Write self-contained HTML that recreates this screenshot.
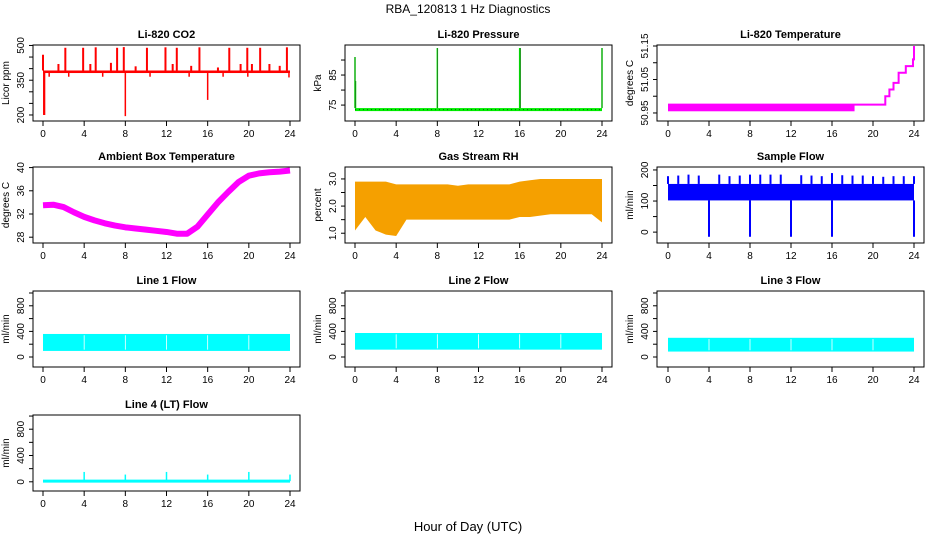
<!DOCTYPE html>
<html><head><meta charset="utf-8"><title>RBA_120813 1 Hz Diagnostics</title>
<style>
html,body{margin:0;padding:0;background:#fff;}
svg{display:block;font-family:"Liberation Sans",Arial,sans-serif;}
</style></head>
<body>
<svg id="chart" width="936" height="540" viewBox="0 0 936 540" xmlns="http://www.w3.org/2000/svg">
<text x="468" y="13" text-anchor="middle" font-size="12">RBA_120813  1 Hz Diagnostics</text>
<text x="468" y="531" text-anchor="middle" font-size="13">Hour of Day (UTC)</text>
<g id="plots"></g>
</svg>
<script>
// ---- data ----
const hours = [0,1,2,3,4,5,6,7,8,9,10,11,12,13,14,15,16,17,18,19,20,21,22,23,24];
const xTicks = [0,4,8,12,16,20,24];

const co2Base = [381,392];
const co2Spikes = [[0,460],[0.1,200],[2.17,490],[3.9,490],[5.12,492],[7.2,490],[7.85,493],[10.1,490],[11.9,492],[13.0,490],[15.2,492],[18.1,490],[19.85,490],[21.1,490],[23.7,492],[1.5,420],[4.6,420],[6.6,425],[9.0,410],[12.6,420],[14.4,412],[17.0,405],[19.2,420],[20.3,420],[22.0,420],[23.0,412]];
const co2Drops = [[0.15,200],[8.0,195],[16.0,265],[0.6,365],[2.5,365],[5.8,365],[10.4,365],[14.2,365],[17.5,365],[19.9,365],[23.9,362]];

const presBase = [73.0,74.0];
const presSpikes = [[0,91],[0.05,83],[8,94],[16,94],[16.05,94],[24,94]];

const tempBand = [50.955,50.975];
const tempStepsX = [0,18.5,21.0,21.2,21.6,22.0,22.5,23.2,23.9,24];
const tempStepsY = [50.975,50.975,50.975,51.00,51.02,51.04,51.07,51.09,51.11,51.15];

const ambient = [33.5,33.6,33.2,32.3,31.5,30.9,30.4,30.0,29.7,29.5,29.3,29.1,28.9,28.6,28.6,29.8,31.9,34.0,35.8,37.5,38.6,39.0,39.2,39.3,39.5];

const rhLow  = [1.1,1.6,1.1,0.95,0.9,1.5,1.5,1.5,1.5,1.5,1.5,1.5,1.5,1.5,1.5,1.5,1.6,1.6,1.65,1.7,1.7,1.7,1.7,1.7,1.4];
const rhHigh = [2.9,2.9,2.9,2.9,2.8,2.8,2.8,2.8,2.8,2.8,2.75,2.8,2.8,2.8,2.8,2.8,2.9,2.95,3.0,3.0,3.0,3.0,3.0,3.0,3.0];

const flowBase = [102,155];
const flowSpikes = [[0,180],[1,182],[2,185],[3,182],[5,185],[6,180],[7,182],[8,185],[9,185],[10,185],[11,185],[13,183],[14,182],[15,180],[16,190],[17,183],[18,182],[19,182],[20,180],[21,178],[22,180],[23,180],[24,180]];
const flowDrops = [4,8,12,16,24];

const line1 = [95,360];
const line2 = [115,375];
const line3 = [85,300];
const line4Base = 10;
const line4Spikes = [[4,150],[8,110],[12,150],[16,110],[20,150],[24,110]];

// ---- layout ----
const colX0 = [43,355,668], colX24 = [290,602,914], colL = [33,345,657], colR = [300,612,924];
const rowT = [45,167,291,415], H = 76;
const G = document.getElementById('plots');
const NS = 'http://www.w3.org/2000/svg';
function mk(tag, attrs, parent){const e=document.createElementNS(NS,tag);for(const k in attrs)e.setAttribute(k,attrs[k]);(parent||G).appendChild(e);return e;}

function panel(name,title,ylab,c,r,ylo,yhi,ticks,labels){
  const g = mk('g',{});
  
  
  const L=colL[c],R=colR[c],T=rowT[r],B=T+H;
  const sx=h=>colX0[c]+h/24*(colX24[c]-colX0[c]);
  const sy=v=>B-(v-ylo)/(yhi-ylo)*H;
  const t=mk('text',{x:(L+R)/2,y:T-7,'text-anchor':'middle','font-size':'11','font-weight':'bold'},g);t.textContent=title;
  
  
  const yl=mk('text',{transform:`translate(${L-24},${(T+B)/2}) rotate(-90)`,'text-anchor':'middle','font-size':'10'},g);yl.textContent=ylab;
  
  
  const dg=mk('g',{},g);
  
  
  const box=mk('rect',{x:L,y:T,width:R-L,height:H,fill:'none',stroke:'#000','stroke-width':1},g);
  
  
  ticks.forEach((v,i)=>{const y=sy(v);mk('line',{x1:L-4,x2:L,y1:y,y2:y,stroke:'#000'},g);
    if(labels[i]!==''){const tl=mk('text',{transform:`translate(${L-9},${y}) rotate(-90)`,'text-anchor':'middle','font-size':'10'},g);tl.textContent=labels[i];
      
      }});
  xTicks.forEach(h=>{const x=sx(h);mk('line',{x1:x,x2:x,y1:B,y2:B+5,stroke:'#000'},g);
    const tl=mk('text',{x:x,y:B+16,'text-anchor':'middle','font-size':'10'},g);tl.textContent=h;
    
    });
  return {g:dg,sx,sy,L,R,T,B};
}
function vline(p,h,a,b,col,w){mk('line',{x1:p.sx(h),x2:p.sx(h),y1:p.sy(a),y2:p.sy(b),stroke:col,'stroke-width':w||1},p.g);}
function band(p,x0,x1,lo,hi,fill){const y1=p.sy(hi),y2=p.sy(lo);mk('rect',{x:p.sx(x0),y:y1,width:p.sx(x1)-p.sx(x0),height:y2-y1,fill:fill},p.g);}

// CO2
let p=panel('co2','Li-820 CO2','Licor ppm',0,0,174,502,[200,250,300,350,400,450,500],['200','','','350','','','500']);
band(p,0,24,co2Base[0],co2Base[1],'#ff0000');
co2Spikes.forEach(s=>vline(p,s[0],co2Base[1],s[1],'#ff0000',2));
co2Drops.forEach(s=>vline(p,s[0],co2Base[0],s[1],'#ff0000',1.5));

// Pressure
p=panel('pressure','Li-820 Pressure','kPa',1,0,69.7,95,[75,80,85,90],['75','','85','']);
band(p,0,24,presBase[0],presBase[1],'#00ee00');
mk('line',{x1:p.sx(0),x2:p.sx(24),y1:p.sy(73.5),y2:p.sy(73.5),stroke:'#006600','stroke-dasharray':'1 3'},p.g);
presSpikes.forEach(s=>{vline(p,s[0],presBase[1],s[1],'#00ee00',1.5);vline(p,s[0],presBase[1],s[1],'#333',0.5);});

// Li-820 Temperature
p=panel('li820-temp','Li-820 Temperature','degrees C',2,0,50.926,51.153,[50.95,51.0,51.05,51.1,51.15],['50.95','','51.05','','51.15']);
band(p,0,18.2,tempBand[0],tempBand[1],'#ff00ff');
(function(){let d='';tempStepsX.forEach((x,i)=>{const X=p.sx(x),Y=p.sy(tempStepsY[i]);d+=(i?`H${X}V${Y}`:`M${X},${Y}`);});
 const s=mk('path',{d:d,fill:'none',stroke:'#ff00ff','stroke-width':2},p.g);
 
 })();

// Ambient
p=panel('ambient','Ambient Box Temperature','degrees C',0,1,27,40.1,[28,32,36,40],['28','32','36','40']);
(function(){const d=hours.map((h,i)=>(i?'L':'M')+p.sx(h)+','+p.sy(ambient[i])).join('');
 const s=mk('path',{d:d,fill:'none',stroke:'#ff00ff','stroke-width':6,'stroke-linejoin':'round'},p.g);
 
 })();

// RH
p=panel('rh','Gas Stream RH','percent',1,1,0.64,3.44,[1.0,1.5,2.0,2.5,3.0],['1.0','','2.0','','3.0']);
(function(){let d=hours.map((h,i)=>(i?'L':'M')+p.sx(h)+','+p.sy(rhHigh[i])).join('');
 for(let i=hours.length-1;i>=0;i--)d+='L'+p.sx(hours[i])+','+p.sy(rhLow[i]);
 const s=mk('path',{d:d+'Z',fill:'#f5a000',stroke:'none'},p.g);
 
 })();

// Sample flow
p=panel('sample-flow','Sample Flow','ml/min',2,1,-35,209.5,[0,50,100,150,200],['0','','100','','200']);
band(p,0,24,flowBase[0],flowBase[1],'#0000ff');
flowSpikes.forEach(s=>vline(p,s[0],flowBase[1],s[1],'#0000ff',2));
flowDrops.forEach(h=>vline(p,h,flowBase[0],-15,'#0000ff',2));

// Line flows
function lineFlow(name,title,c,r,rng,lo,hi){
  const q=panel(name,title,'ml/min',c,r,lo,hi,[0,200,400,600,800,1000],['0','','400','','800','']);
  band(q,0,24,rng[0],rng[1],'#00ffff');
  [4,8,12,16,20].forEach(h=>vline(q,h,rng[0]+20,rng[1]-20,'#ffffff',0.8));
  return q;
}
lineFlow('line1-flow','Line 1 Flow',0,2,line1,-156,1031);
lineFlow('line2-flow','Line 2 Flow',1,2,line2,-156,1031);
lineFlow('line3-flow','Line 3 Flow',2,2,line3,-156,1031);
p=panel('line4-flow','Line 4 (LT) Flow','ml/min',0,3,-140,1016,[0,200,400,600,800,1000],['0','','400','','800','']);
mk('line',{x1:p.sx(0),x2:p.sx(24),y1:p.sy(line4Base),y2:p.sy(line4Base),stroke:'#00ffff','stroke-width':3},p.g);
line4Spikes.forEach(s=>vline(p,s[0],line4Base,s[1],'#00ffff',1.5));
</script>
</body></html>
